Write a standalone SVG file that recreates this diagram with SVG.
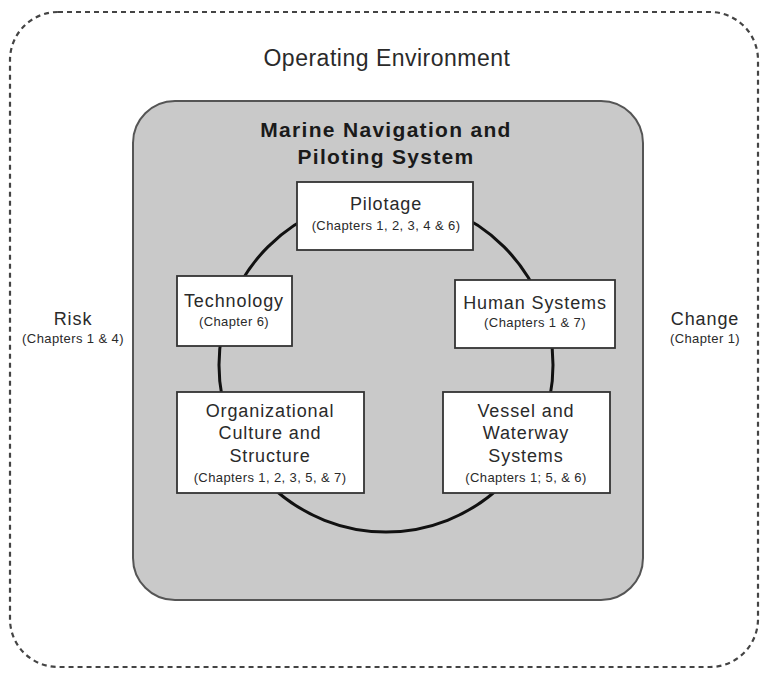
<svg xmlns="http://www.w3.org/2000/svg" width="763" height="677" viewBox="0 0 763 677">
<style>
text{font-family:"Liberation Sans",Arial,sans-serif;fill:#2a2a2a;text-anchor:middle}
.box{fill:#ffffff;stroke:#333;stroke-width:1.8}
.lbl{font-size:18px;letter-spacing:0.9px}
.ch{font-size:13px;letter-spacing:0.4px}
.big{font-size:21px;font-weight:bold;fill:#1a1a1a;letter-spacing:1.3px}
</style>
<rect width="763" height="677" fill="#ffffff"/>
<g id="environment">
<rect x="10" y="12" width="748" height="655" rx="48" ry="48" fill="none" stroke="#444" stroke-width="2.2" stroke-dasharray="5 4"/>
<text x="387" y="66" font-size="23" letter-spacing="0.5">Operating Environment</text>
</g>
<g id="system">
<rect x="133" y="101" width="510" height="499" rx="42" ry="42" fill="#c9c9c9" stroke="#555" stroke-width="2"/>
<text class="big" x="386" y="137">Marine Navigation and</text>
<text class="big" x="386" y="164">Piloting System</text>
</g>
<g id="connectors">
<circle cx="386" cy="365" r="167" fill="none" stroke="#111" stroke-width="3"/>
</g>
<g id="pilotage">
<rect class="box" x="297" y="182" width="176" height="68"/>
<text class="lbl" x="386" y="210">Pilotage</text>
<text class="ch" x="386" y="230">(Chapters 1, 2, 3, 4 &amp; 6)</text>
</g>
<g id="technology">
<rect class="box" x="177" y="276" width="115" height="70"/>
<text class="lbl" x="234" y="307">Technology</text>
<text class="ch" x="234" y="326">(Chapter 6)</text>
</g>
<g id="human">
<rect class="box" x="455" y="280" width="160" height="68"/>
<text class="lbl" x="535" y="309">Human Systems</text>
<text class="ch" x="535" y="327">(Chapters 1 &amp; 7)</text>
</g>
<g id="organizational">
<rect class="box" x="177" y="392" width="187" height="101"/>
<text class="lbl" x="270" y="417">Organizational</text>
<text class="lbl" x="270" y="439">Culture and</text>
<text class="lbl" x="270" y="462">Structure</text>
<text class="ch" x="270" y="482">(Chapters 1, 2, 3, 5, &amp; 7)</text>
</g>
<g id="vessel">
<rect class="box" x="443" y="392" width="167" height="101"/>
<text class="lbl" x="526" y="417">Vessel and</text>
<text class="lbl" x="526" y="439">Waterway</text>
<text class="lbl" x="526" y="462">Systems</text>
<text class="ch" x="526" y="482">(Chapters 1; 5, &amp; 6)</text>
</g>
<g id="risk">
<text class="lbl" x="73" y="325">Risk</text>
<text class="ch" x="73" y="343">(Chapters 1 &amp; 4)</text>
</g>
<g id="change">
<text class="lbl" x="705" y="325">Change</text>
<text class="ch" x="705" y="343">(Chapter 1)</text>
</g>
</svg>
